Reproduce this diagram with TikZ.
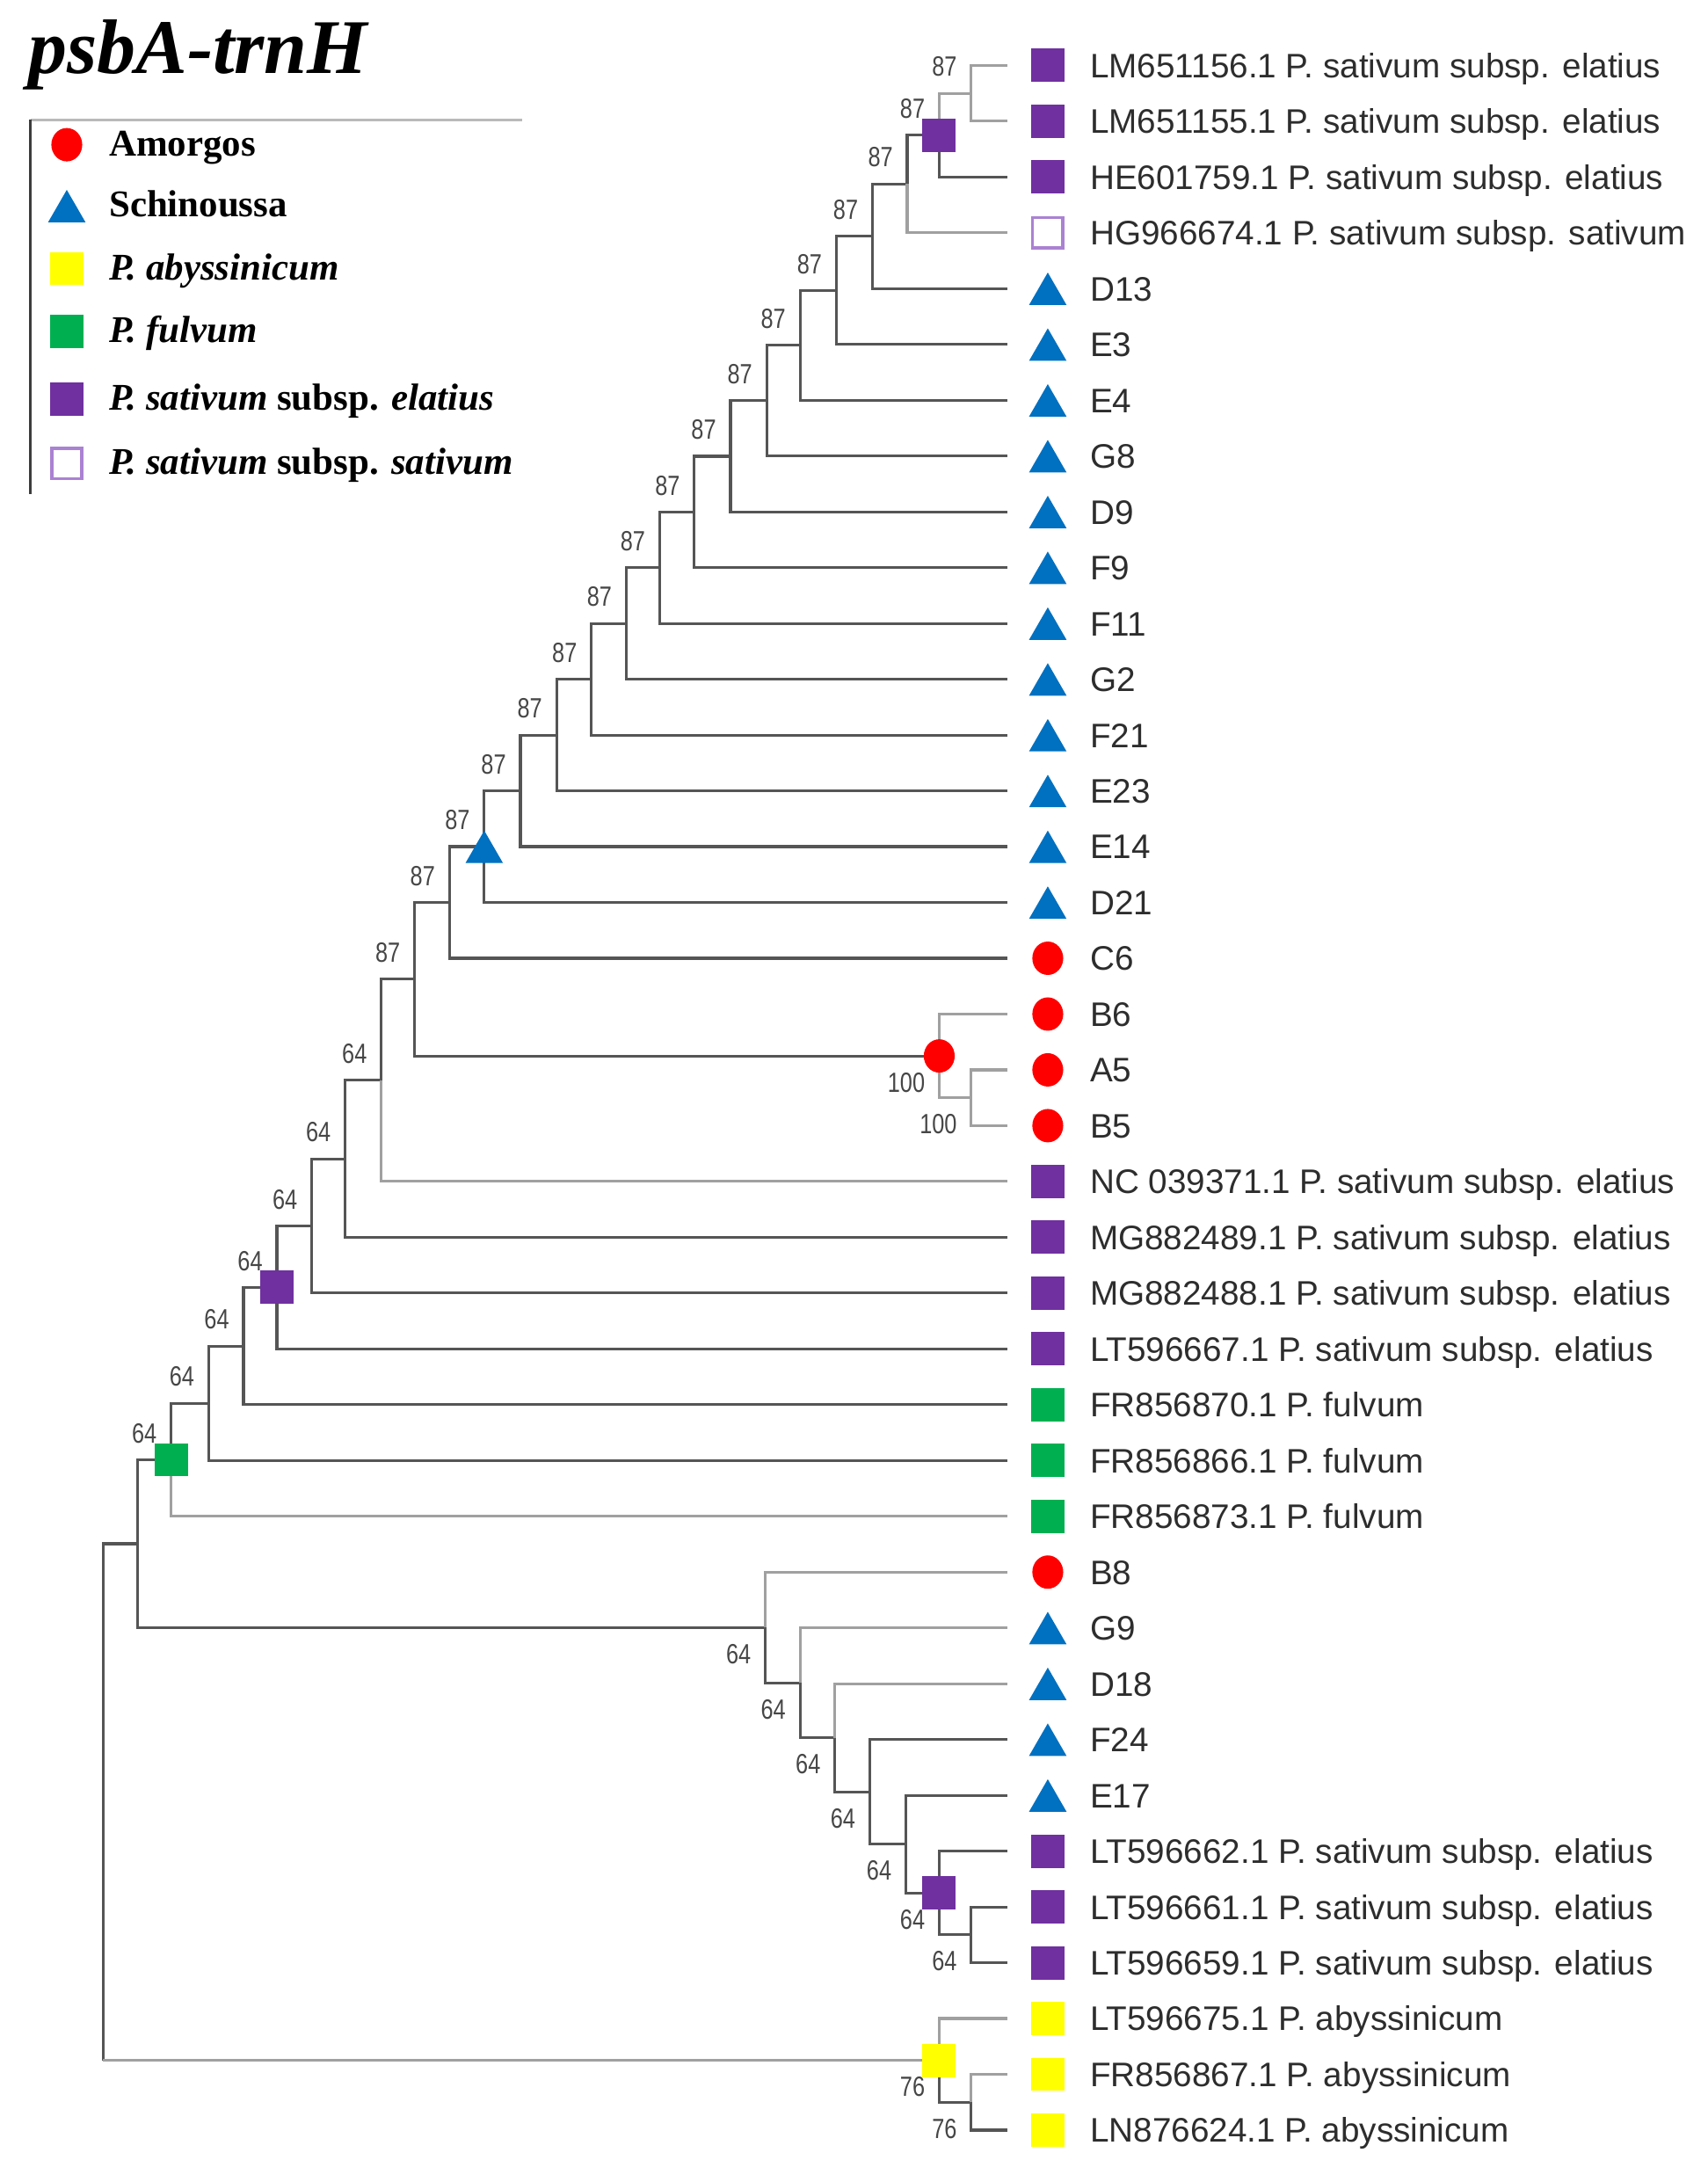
\documentclass[tikz,border=0pt]{standalone}
\usepackage{fontspec}
\setmainfont{Liberation Serif}
\newfontfamily\arialfont{Liberation Sans}
\usetikzlibrary{shapes.geometric}
\definecolor{amred}{RGB}{255,0,0}
\definecolor{schblue}{RGB}{0,112,192}
\definecolor{abyyellow}{RGB}{255,255,0}
\definecolor{fulgreen}{RGB}{0,176,80}
\definecolor{elpurple}{RGB}{112,48,160}
\definecolor{satpurple}{RGB}{170,130,210}
\definecolor{treegray}{RGB}{85,85,85}
\definecolor{faintgray}{RGB}{160,160,160}
\definecolor{leafgray}{RGB}{45,45,45}
\definecolor{bootgray}{RGB}{70,70,70}
\definecolor{framelight}{RGB}{185,185,185}
\definecolor{framedark}{RGB}{60,60,60}
\begin{document}
\begin{tikzpicture}[x=0.015827cm, y=-0.015827cm,
		branch/.style={draw=treegray, line width=0.9pt},
		faint/.style={draw=faintgray, line width=0.9pt},
		sqel/.style={rectangle, fill=elpurple, minimum size=10.8pt, inner sep=0pt},
		sqsat/.style={rectangle, draw=satpurple, line width=1pt, fill=white, minimum size=9.8pt, inner sep=0pt},
		sqaby/.style={rectangle, fill=abyyellow, minimum size=10.8pt, inner sep=0pt},
		sqful/.style={rectangle, fill=fulgreen, minimum size=10.8pt, inner sep=0pt},
		circ/.style={ellipse, fill=amred, minimum width=10pt, minimum height=10.8pt, inner sep=0pt},
		tri/.style={regular polygon, regular polygon sides=3, fill=schblue, minimum size=14pt, inner sep=0pt, yshift=-1.8pt},
		leaf/.style={font=\arialfont\fontsize{11}{12}\selectfont, text=leafgray, anchor=base west, inner sep=0pt},
		boot/.style={font=\arialfont\fontsize{9}{10}\selectfont, text=bootgray, anchor=east, inner sep=0pt, xshift=-4.5pt, xscale=0.8},
		bootup/.style={boot, yshift=8.6pt},
		bootdn/.style={boot, yshift=-8.6pt},
		legtext/.style={font=\bfseries\fontsize{12.2}{14}\selectfont, anchor=base west, inner sep=0pt}]
		\useasboundingbox (0,0) rectangle (1227,1568);
		% title and legend
		\node[font=\bfseries\itshape\fontsize{25}{30}\selectfont, anchor=base west, inner sep=0pt] (title) at (20,53) {psbA-trnH};
		\draw[draw=framelight, line width=0.8pt] (22,86) -- (375,86);
		\draw[draw=framedark, line width=0.8pt] (22,86) -- (22,355);
		\node[circ] (lg1) at (48,104) {};
		\node[legtext] (lt1) at (78,112) {Amorgos};
		\node[tri] (lg2) at (48,148) {};
		\node[legtext] (lt2) at (78,156) {Schinoussa};
		\node[sqaby] (lg3) at (48,193) {};
		\node[legtext] (lt3) at (78,201) {\textit{P. abyssinicum}};
		\node[sqful] (lg4) at (48,238) {};
		\node[legtext] (lt4) at (78,246) {\textit{P. fulvum}};
		\node[sqel] (lg5) at (48,287) {};
		\node[legtext] (lt5) at (78,295) {\textit{P. sativum} subsp. \textit{elatius}};
		\node[sqsat] (lg6) at (48,333) {};
		\node[legtext] (lt6) at (78,341) {\textit{P. sativum} subsp. \textit{sativum}};
		% leaf tips
		\foreach \i in {1,...,38}
			\coordinate (l\i) at (724,{47+40.1*(\i-1)});
		% inner nodes
		\coordinate (n1) at (698,67.05);
		\coordinate (n2) at (675,97.1);
		\coordinate (n3) at (652,132.2);
		\coordinate (n4) at (627,169.8);
		\coordinate (n5) at (601,208.7);
		\coordinate (n6) at (575,248.1);
		\coordinate (n7) at (551,287.9);
		\coordinate (n8) at (525,327.9);
		\coordinate (n9) at (499,367.9);
		\coordinate (n10) at (474,408.0);
		\coordinate (n11) at (450,448.0);
		\coordinate (n12) at (425,488.1);
		\coordinate (n13) at (400,528.2);
		\coordinate (n14) at (374,568.3);
		\coordinate (n15) at (348,608.4);
		\coordinate (n16) at (323,648.5);
		\coordinate (n17) at (298,703.6);
		\coordinate (a1) at (698,788.9);
		\coordinate (a2) at (675,758.8);
		\coordinate (n18) at (274,776.3);
		\coordinate (n19) at (248,832.7);
		\coordinate (n20) at (224,881.0);
		\coordinate (n21) at (199,925.1);
		\coordinate (n22) at (175,967.3);
		\coordinate (n23) at (150,1008.4);
		\coordinate (n24) at (123,1049.0);
		\coordinate (b1) at (698,1390.3);
		\coordinate (b2) at (675,1360.3);
		\coordinate (b3) at (651,1325.2);
		\coordinate (b4) at (625,1287.6);
		\coordinate (b5) at (600,1248.8);
		\coordinate (b6) at (575,1209.3);
		\coordinate (b7) at (550,1169.5);
		\coordinate (n25) at (99,1109.3);
		\coordinate (y1) at (698,1510.7);
		\coordinate (y2) at (675,1480.6);
		\coordinate (root) at (74,1295.0);
		% branches
		\foreach \p/\c in {n2/l3, n3/n2, n4/n3, n4/l5, n5/n4, n5/l6, n6/n5, n6/l7, n7/n6, n7/l8,
			n8/n7, n8/l9, n9/n8, n9/l10, n10/n9, n10/l11, n11/n10, n11/l12, n12/n11, n12/l13,
			n13/n12, n13/l14, n14/n13, n14/l15, n15/n14, n15/l16, n16/n15, n16/l17, n17/n16, n17/a2,
			n18/n17, n19/n18, n19/l22, n20/n19, n20/l23, n21/n20, n21/l24, n22/n21, n22/l25,
			n23/n22, n23/l26, n24/n23, n25/n24, n25/b7, b7/b6, b6/b5, b5/b4, b4/l31, b4/b3,
			b3/l32, b3/b2, b2/l33, b2/b1, b1/l34, b1/l35, root/n25, y2/y1, y1/l38}
			\draw[branch] (\p) |- (\c);
		\foreach \p/\c in {n1/l1, n1/l2, n2/n1, n3/l4, a2/l18, a2/a1, a1/l19, a1/l20, n18/l21,
			n24/l27, b7/l28, b6/l29, b5/l30, y2/l36, y1/l37}
			\draw[faint] (\p) |- (\c);
		\draw[branch] (root) -- (root |- y2);
		\draw[faint] (root |- y2) -- (y2);
		% leaves
		\foreach \i/\mk/\lab in {1/sqel/LM651156.1 P. sativum subsp. elatius,
			2/sqel/LM651155.1 P. sativum subsp. elatius, 3/sqel/HE601759.1 P. sativum subsp. elatius,
			4/sqsat/HG966674.1 P. sativum subsp. sativum, 5/tri/D13, 6/tri/E3, 7/tri/E4, 8/tri/G8,
			9/tri/D9, 10/tri/F9, 11/tri/F11, 12/tri/G2, 13/tri/F21, 14/tri/E23, 15/tri/E14, 16/tri/D21,
			17/circ/C6, 18/circ/B6, 19/circ/A5, 20/circ/B5,
			21/sqel/NC 039371.1 P. sativum subsp. elatius, 22/sqel/MG882489.1 P. sativum subsp. elatius,
			23/sqel/MG882488.1 P. sativum subsp. elatius, 24/sqel/LT596667.1 P. sativum subsp. elatius,
			25/sqful/FR856870.1 P. fulvum, 26/sqful/FR856866.1 P. fulvum, 27/sqful/FR856873.1 P. fulvum,
			28/circ/B8, 29/tri/G9, 30/tri/D18, 31/tri/F24, 32/tri/E17,
			33/sqel/LT596662.1 P. sativum subsp. elatius, 34/sqel/LT596661.1 P. sativum subsp. elatius,
			35/sqel/LT596659.1 P. sativum subsp. elatius, 36/sqaby/LT596675.1 P. abyssinicum,
			37/sqaby/FR856867.1 P. abyssinicum, 38/sqaby/LN876624.1 P. abyssinicum}
		{
			\node[\mk] (m\i) at (753,{47+40.1*(\i-1)}) {};
			\node[leaf] (t\i) at (783,{47+40.1*(\i-1)+8.8}) {\lab};
		}
		% markers on inner nodes
		\node[sqel] (k2) at (n2) {};
		\node[tri] (k15) at (n15) {};
		\node[circ] (ka2) at (a2) {};
		\node[sqel] (k21) at (n21) {};
		\node[sqful] (k24) at (n24) {};
		\node[sqel] (kb2) at (b2) {};
		\node[sqaby] (ky2) at (y2) {};
		% support values
		\foreach \n in {1,...,17}
			\node[bootup] (s\n) at (n\n) {87};
		\foreach \n in {18,...,24}
			\node[bootup] (s\n) at (n\n) {64};
		\foreach \n in {a1,a2}
			\node[bootdn] (s\n) at (\n) {100};
		\foreach \n in {b1,b2,b3,b4,b5,b6,b7}
			\node[bootdn] (s\n) at (\n) {64};
		\foreach \n in {y1,y2}
			\node[bootdn] (s\n) at (\n) {76};
	\end{tikzpicture}
\end{document}
